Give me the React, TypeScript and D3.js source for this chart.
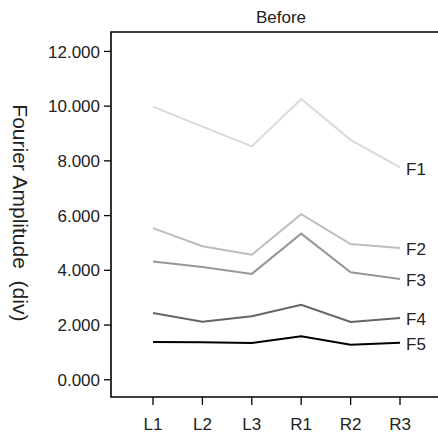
import * as d3 from "d3"
import React from "react"

const categories = ["L1", "L2", "L3", "R1", "R2", "R3"]
const seriesNames = ["F1", "F2", "F3", "F4", "F5"]
const f1 = [9.98, 9.25, 8.53, 10.26, 8.77, 7.76]
const f2 = [5.54, 4.88, 4.57, 6.05, 4.96, 4.82]
const f3 = [4.32, 4.12, 3.87, 5.34, 3.93, 3.68]
const f4 = [2.44, 2.12, 2.32, 2.74, 2.11, 2.26]
const f5 = [1.38, 1.37, 1.34, 1.59, 1.28, 1.35]
const yTicks = [0, 2, 4, 6, 8, 10, 12]
const colors = ["#dadada", "#bdbdbd", "#979797", "#656565", "#000000"]

const width = 438
const height = 436
const font = "'Liberation Sans', Arial, sans-serif"

const App = () => {
  const series = [f1, f2, f3, f4, f5]
  const x = d3.scalePoint().domain(categories).range([153, 400])
  const y = d3.scaleLinear().domain([-0.63, 12.71]).range([397, 32])
  const left = 111
  const top = y(12.71)
  const bottom = y(-0.63)

  const line = d3
    .line<number>()
    .x((d, i) => x(categories[i]) as number)
    .y((d) => y(d))

  return (
    <svg
      width={width}
      height={height}
      viewBox={`0 0 ${width} ${height}`}
      style={{ position: "absolute", left: 0, top: 0 }}
      fontFamily={font}
    >
      <text x={281} y={22.5} fontSize={17} textAnchor="middle" fill="#222">
        Before
      </text>
      {/* frame */}
      <path
        d={`M${width},${top}H${left}V${bottom}H${width}`}
        fill="none"
        stroke="#000"
        strokeWidth={1.6}
      />
      {/* y axis */}
      {yTicks.map((t) => (
        <g key={t} transform={`translate(0,${y(t)})`}>
          <line x1={104} x2={left} stroke="#000" strokeWidth={1.3} />
          <text x={100} dy="0.36em" fontSize={17} textAnchor="end" fill="#222">
            {d3.format(".3f")(t)}
          </text>
        </g>
      ))}
      {/* x axis */}
      {categories.map((c) => (
        <g key={c} transform={`translate(${x(c)},0)`}>
          <line y1={bottom} y2={bottom + 8} stroke="#000" strokeWidth={1.3} />
          <text y={430} fontSize={17} textAnchor="middle" fill="#222">
            {c}
          </text>
        </g>
      ))}
      <text
        transform={`translate(21,${y(6.1)}) rotate(90)`}
        fontSize={21}
        textAnchor="middle"
        dy="0.36em"
        fill="#222"
      >
        Fourier Amplitude {"\u00a0"}(div)
      </text>
      {series.map((s, i) => (
        <path
          key={seriesNames[i]}
          d={line(s) as string}
          fill="none"
          stroke={colors[i]}
          strokeWidth={2}
        />
      ))}
      {series.map((s, i) => (
        <text
          key={seriesNames[i]}
          x={406}
          y={y(s[s.length - 1]) + 1}
          dy="0.36em"
          fontSize={17}
          fill="#222"
        >
          {seriesNames[i]}
        </text>
      ))}
    </svg>
  )
}

export default App
